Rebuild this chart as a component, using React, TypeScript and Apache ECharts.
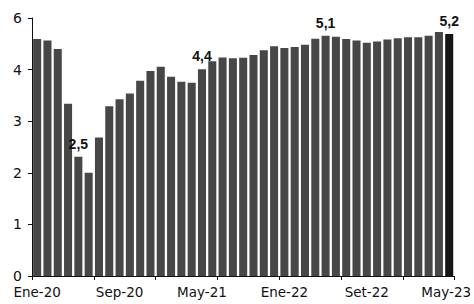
import React, { useEffect, useRef } from "react";
import * as echarts from "echarts";

const categories: string[] = [
  "Ene-20", "Feb-20", "Mar-20", "Abr-20", "May-20", "Jun-20", "Jul-20", "Ago-20", "Sep-20", "Oct-20", "Nov-20", "Dic-20",
  "Ene-21", "Feb-21", "Mar-21", "Abr-21", "May-21", "Jun-21", "Jul-21", "Ago-21", "Sep-21", "Oct-21", "Nov-21", "Dic-21",
  "Ene-22", "Feb-22", "Mar-22", "Abr-22", "May-22", "Jun-22", "Jul-22", "Ago-22", "Set-22", "Oct-22", "Nov-22", "Dic-22",
  "Ene-23", "Feb-23", "Mar-23", "Abr-23", "May-23",
];

const values: number[] = [
  5.05, 5.02, 4.84, 3.67, 2.54, 2.2, 2.95, 3.62, 3.77, 3.89, 4.16, 4.37,
  4.46, 4.25, 4.14, 4.12, 4.41, 4.58, 4.66, 4.64, 4.65, 4.71, 4.81, 4.9,
  4.86, 4.88, 4.93, 5.06, 5.12, 5.1, 5.05, 5.02, 4.97, 5.0, 5.04, 5.07,
  5.09, 5.09, 5.12, 5.2, 5.16,
];

const labeledCategories: string[] = ["May-20", "May-21", "May-22", "May-23"];
const highlightedCategories: string[] = ["May-23"];
const yTickLabels: string[] = ["0", "1", "2", "3", "4", "6"];

export default function App() {
  const ref = useRef<HTMLDivElement>(null);

  useEffect(() => {
    if (!ref.current) return;
    const chart = echarts.init(ref.current, undefined, { renderer: "svg" });
    const lastIdx = categories.length - 1;
    const data = values.map((v, i) => ({
      value: v,
      itemStyle: {
        color: highlightedCategories.includes(categories[i]) ? "#161616" : "#474747",
      },
      label: { show: labeledCategories.includes(categories[i]) },
    }));

    chart.setOption({
      animation: false,
      backgroundColor: "#ffffff",
      grid: { left: 32, right: 13, top: 18, bottom: 28 },
      xAxis: {
        type: "category",
        data: categories,
        boundaryGap: true,
        axisLine: { show: true, lineStyle: { color: "#111", width: 1 } },
        axisTick: {
          show: true,
          interval: 5,
          alignWithLabel: false,
          length: 4,
          lineStyle: { color: "#111" },
        },
        axisLabel: {
          interval: 7,
          margin: 9,
          fontFamily: "DejaVu Sans",
          fontSize: 13.5,
          color: "#111",
          formatter: (val: string, idx: number) =>
            idx === lastIdx ? "{r|" + val + "}" : val,
          rich: {
            r: {
              fontFamily: "DejaVu Sans",
              fontSize: 13.5,
              color: "#111",
              padding: [0, 6, 0, 0],
            },
          },
        },
        splitLine: { show: false },
      },
      yAxis: [
        {
          type: "value",
          min: 0,
          max: 5,
          interval: 1,
          axisLine: { show: true, lineStyle: { color: "#111", width: 1 } },
          axisTick: { show: true, length: 4, lineStyle: { color: "#111" } },
          axisLabel: {
            margin: 10,
            fontFamily: "DejaVu Sans",
            fontSize: 14,
            color: "#111",
            formatter: (v: number) => yTickLabels[Math.round(v)] ?? "",
          },
          splitLine: { show: false },
        },
        {
          type: "value",
          min: 0,
          max: 5.5,
          show: false,
          splitLine: { show: false },
        },
      ],
      series: [
        {
          type: "bar",
          yAxisIndex: 1,
          data,
          barCategoryGap: "22%",
          label: {
            show: false,
            position: "top",
            distance: 6,
            fontFamily: "Liberation Sans",
            fontWeight: "bold",
            fontSize: 14,
            color: "#111",
            formatter: (p: any) => Number(p.value).toFixed(1).replace(".", ","),
          },
        },
      ],
    });

    return () => chart.dispose();
  }, []);

  return (
    <div
      ref={ref}
      style={{ position: "fixed", left: 0, top: 0, width: 474, height: 304 }}
    />
  );
}
